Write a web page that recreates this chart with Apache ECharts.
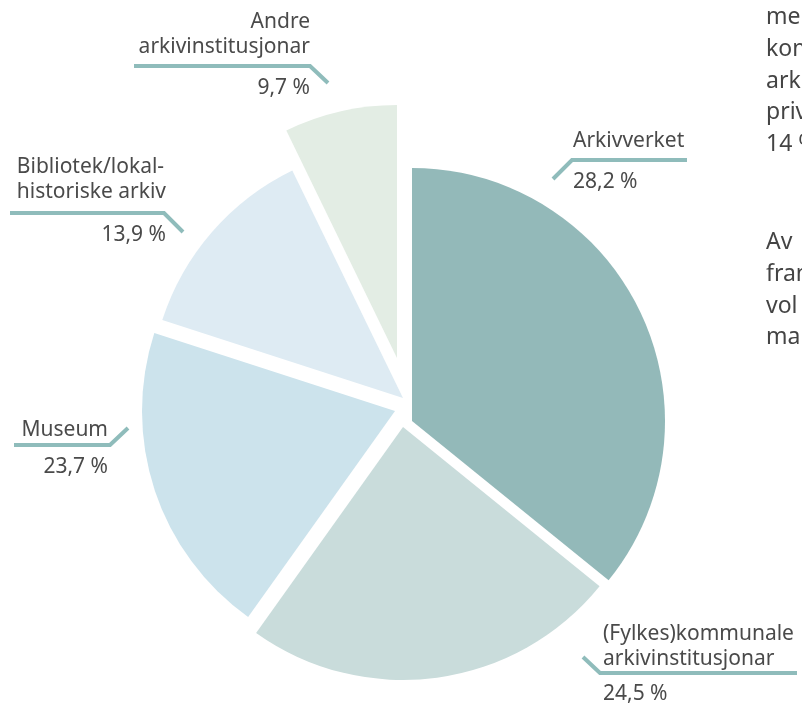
<!DOCTYPE html>
<html>
<head>
<meta charset="utf-8">
<script src="https://cdn.jsdelivr.net/npm/echarts@6/dist/echarts.min.js"></script>
<style>
  html, body { margin: 0; padding: 0; background: #fff; }
  #chart { width: 802px; height: 704px; }
</style>
</head>
<body>
<div id="chart"></div>
<script>
// slices clockwise from 12 o'clock
var names = [
  'Arkivverket',
  '(Fylkes)kommunale\narkivinstitusjonar',
  'Museum',
  'Bibliotek/lokal-\nhistoriske arkiv',
  'Andre\narkivinstitusjonar'
];
// slice sizes as drawn (angles)
var sliceValues = [35.8, 24.0, 20.1, 12.8, 7.2];
// percentages printed in the labels
var shareLabels = ['28,2 %', '24,5 %', '23,7 %', '13,9 %', '9,7 %'];

// body text cut off at the right edge
var bodyLines1 = ['me', 'kom', 'ark', 'priv', '14 %'];
var bodyLines2 = ['Av', 'fram', 'vol', 'ma'];

var colors = ['#93b9b9', '#c9dcdb', '#cce3ec', '#deebf3', '#e3ede4'];
var lineColor = '#8fbcbb';
var textColor = '#4a4a4a';
var font = 'Noto Sans';

// each slice is pulled out on its own, so each gets its own pie centre
var centers = [[412, 421], [403, 427], [395, 411], [403, 398], [397, 358]];

// label block top-left/right, gap above the percentage, leader line
var spots = [
  { x: 573, y: 128.5, align: 'left', n: 'nl', p: 'pl', gap: 16.5, line: [[553, 179], [572, 160], [687, 160]] },
  { x: 603, y: 621.5, align: 'left', n: 'nl', p: 'pl', gap: 10.5, line: [[583, 657], [600, 673], [797, 673]] },
  { x: 108, y: 417.5, align: 'right', n: 'nr', p: 'pr', gap: 12.5, line: [[128, 428], [110, 445], [14, 445]] },
  { x: 166, y: 154.5, align: 'right', n: 'nl', p: 'pr', gap: 19, line: [[183, 232], [164, 213], [10, 213]] },
  { x: 310, y: 9.5, align: 'right', n: 'nr', p: 'pr', gap: 16.5, line: [[328, 83], [310, 66], [134, 66]] }
];

function txt(align, lh) {
  return { align: align, fontFamily: font, fontSize: 21, lineHeight: lh, color: textColor };
}

var rich = {
  nl: txt('left', 25),
  nr: txt('right', 25),
  pl: txt('left', 24),
  pr: txt('right', 24)
};
spots.forEach(function (s, i) {
  rich['g' + i] = { fontSize: 1, lineHeight: s.gap };
});

function labelText(p) {
  var s = spots[p.dataIndex];
  var rows = names[p.dataIndex].split('\n').map(function (r) {
    return '{' + s.n + '|' + r + '}';
  });
  rows.push('{g' + p.dataIndex + '| }');
  rows.push('{' + s.p + '|' + shareLabels[p.dataIndex] + '}');
  return rows.join('\n');
}

var series = sliceValues.map(function (v, k) {
  return {
    type: 'pie',
    center: centers[k],
    radius: 253,
    startAngle: 90,
    clockwise: true,
    silent: true,
    animation: false,
    avoidLabelOverlap: false,
    itemStyle: { borderWidth: 0 },
    label: {
      formatter: labelText,
      fontFamily: font,
      fontSize: 21,
      color: textColor,
      rich: rich
    },
    labelLine: { show: true, lineStyle: { color: lineColor, width: 4 } },
    labelLayout: function (p) {
      var s = spots[p.dataIndex];
      return { x: s.x, y: s.y, align: s.align, verticalAlign: 'top', labelLinePoints: s.line };
    },
    data: sliceValues.map(function (val, i) {
      return {
        value: val,
        name: names[i],
        itemStyle: { color: i === k ? colors[i] : 'rgba(0,0,0,0)' },
        label: { show: i === k },
        labelLine: { show: i === k }
      };
    })
  };
});

var chart = echarts.init(document.getElementById('chart'));
chart.setOption({
  backgroundColor: '#fff',
  series: series,
  graphic: [
    {
      type: 'text', x: 766, y: 2,
      style: { text: bodyLines1.join('\n'), fontFamily: font, fontSize: 23, lineHeight: 31.7, fill: '#444' }
    },
    {
      type: 'text', x: 766, y: 227,
      style: { text: bodyLines2.join('\n'), fontFamily: font, fontSize: 23, lineHeight: 31.7, fill: '#444' }
    }
  ]
});
</script>
</body>
</html>
